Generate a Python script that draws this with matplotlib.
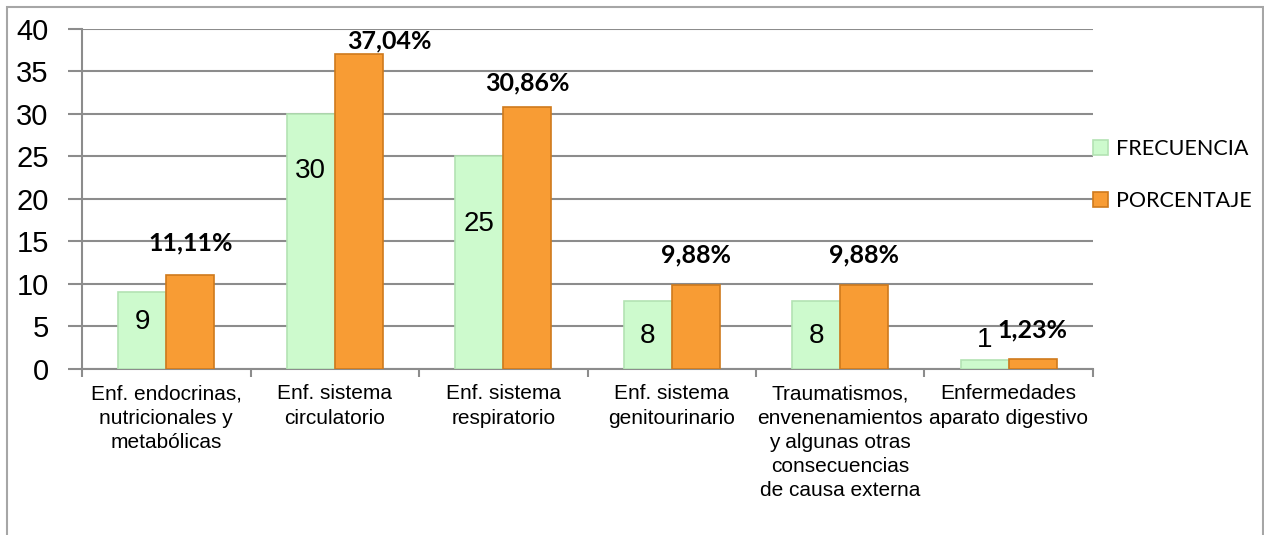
import matplotlib.pyplot as plt
from matplotlib.patches import Rectangle
import numpy as np

# datos del gráfico
categorias = [
    "Enf. endocrinas,\nnutricionales y\nmetabólicas",
    "Enf. sistema\ncirculatorio",
    "Enf. sistema\nrespiratorio",
    "Enf. sistema\ngenitourinario",
    "Traumatismos,\nenvenenamientos\ny algunas otras\nconsecuencias\nde causa externa",
    "Enfermedades\naparato digestivo",
]
frecuencia = [9, 30, 25, 8, 8, 1]
porcentaje = [11.11, 37.04, 30.86, 9.88, 9.88, 1.23]
etiquetas_pct = ["11,11%", "37,04%", "30,86%", "9,88%", "9,88%", "1,23%"]

# posición vertical de las etiquetas (en unidades del eje)
y_frec = [5.5, 23.3, 17.1, 3.9, 3.9, 3.4]
y_pct = [14.8, 38.6, 33.6, 13.4, 13.4, 4.6]
dx_pct = [0, 0.18, 0, 0, 0, 0]

verde = "#cdfacd"
verde_borde = "#b3e3b3"
naranja = "#f89c34"
naranja_borde = "#cf7a1c"

fig = plt.figure(figsize=(12.64, 5.35), dpi=100)
ax = fig.add_axes([0.0649, 0.3103, 0.7998, 0.6355])

# marco exterior (el borde inferior queda fuera de la imagen)
fig.patches.append(Rectangle((7 / 1264, -0.1), 1256 / 1264, 1.1 - 7 / 535,
                             transform=fig.transFigure, fill=False,
                             edgecolor="#a6a6a6", linewidth=1.5))

x = np.arange(len(categorias))
ancho = 0.285
ax.bar(x - ancho / 2, frecuencia, ancho, color=verde, edgecolor=verde_borde,
       linewidth=1.2, zorder=3, label="FRECUENCIA")
ax.bar(x + ancho / 2, porcentaje, ancho, color=naranja, edgecolor=naranja_borde,
       linewidth=1.2, zorder=3, label="PORCENTAJE")

for i in range(len(categorias)):
    ax.text(x[i] - ancho / 2, y_frec[i], str(frecuencia[i]), ha="center", va="center",
            fontsize=20, family="Liberation Sans", zorder=4)
    ax.text(x[i] + ancho / 2 + dx_pct[i], y_pct[i], etiquetas_pct[i], ha="center",
            va="center", fontsize=18, fontweight="bold", family="Lato", zorder=4)

ax.set_xlim(-0.5, len(categorias) - 0.5)
ax.set_ylim(0, 40)
ax.set_yticks(range(0, 41, 5))
ax.yaxis.grid(True, color="#8c8c8c", linewidth=1.5, zorder=0)
ax.set_axisbelow(True)

ax.set_xticks(x)
ax.set_xticklabels(categorias, family="Liberation Sans", fontsize=15, linespacing=1.35)
ax.set_xticks(np.arange(-0.5, len(categorias)), minor=True)
ax.tick_params(axis="x", which="major", length=0, pad=11)
ax.tick_params(axis="x", which="minor", length=6, color="#8c8c8c", width=1.5)
ax.tick_params(axis="y", length=10, color="#8c8c8c", width=1.5, pad=14, labelsize=21)
for lbl in ax.get_yticklabels():
    lbl.set_family("Liberation Sans")

for lado in ["top", "right"]:
    ax.spines[lado].set_visible(False)
ax.spines["left"].set_color("#8c8c8c")
ax.spines["left"].set_linewidth(1.5)
ax.spines["bottom"].set_color("#8c8c8c")
ax.spines["bottom"].set_linewidth(1.5)

ax.legend(loc="upper left", bbox_to_anchor=(1.0, 0.675), frameon=False,
          prop={"family": "Lato", "size": 15.5}, handlelength=0.7, handleheight=0.7,
          handletextpad=0.35, labelspacing=1.45, borderaxespad=0, borderpad=0)

fig.savefig("out.png", dpi=100)
